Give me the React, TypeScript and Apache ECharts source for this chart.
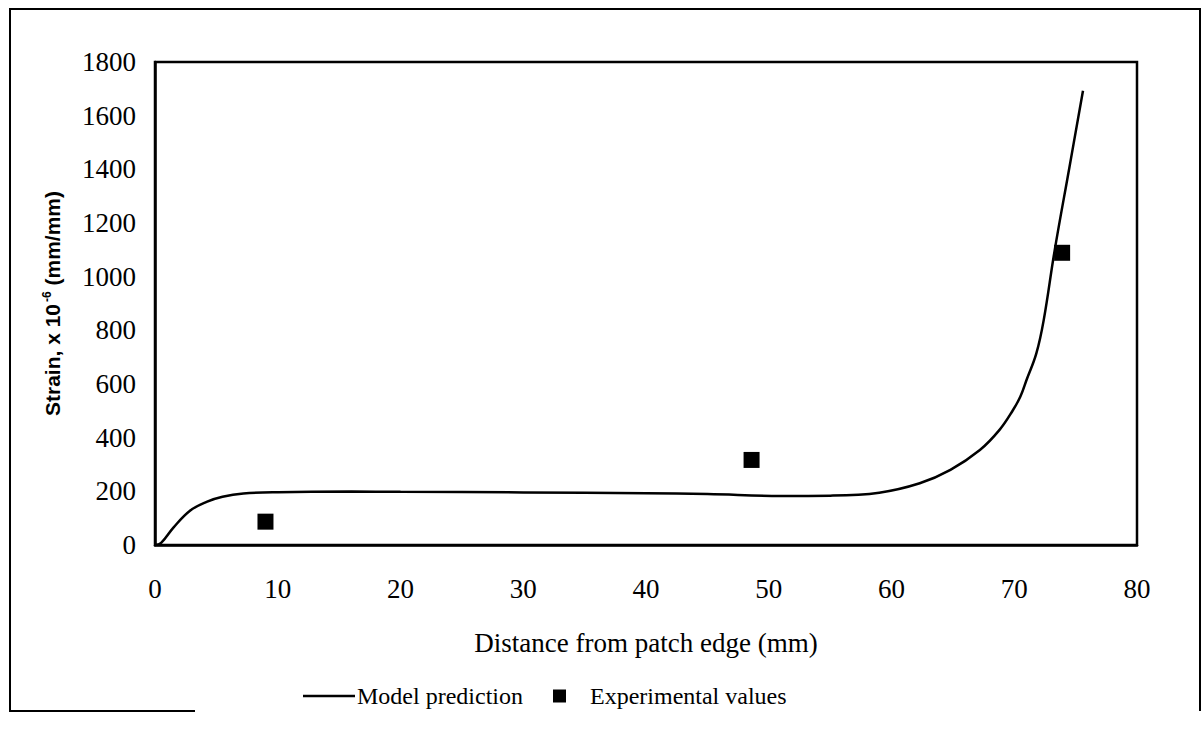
import React, { useEffect, useRef } from "react";
import * as echarts from "echarts";

const modelX = [0, 0.5, 1.5, 2.85, 4.2, 5.5, 7.2, 10, 16, 20, 30, 40, 45, 51, 55, 59, 62.3, 64.8, 67.2, 68.8, 69.9, 70.5, 71.0, 71.8, 72.4, 73.3, 74.5, 75.6];
const modelY = [0, 8, 65, 128, 161, 180, 192, 197, 199, 198, 196, 193, 190, 183, 184, 195, 230, 280, 354, 429, 503, 553, 615, 714, 838, 1100, 1409, 1693];
const expX = [9.0, 48.6, 73.9];
const expY = [87, 317, 1089];
const seriesNames = ["Model prediction", "Experimental values"];
const xTitle = "Distance from patch edge (mm)";

const SERIF = "'Liberation Serif', 'Times New Roman', serif";
const SANS = "'Liberation Sans', Arial, sans-serif";

export default function App() {
  const ref = useRef<HTMLDivElement>(null);
  useEffect(() => {
    if (!ref.current) return;
    const chart = echarts.init(ref.current, undefined, { renderer: "svg" });
    const option: any = {
      animation: false,
      backgroundColor: "#ffffff",
      grid: {
        left: 155,
        top: 62,
        right: 65,
        bottom: 187,
        show: true,
        borderColor: "#000",
        borderWidth: 2.5,
        backgroundColor: "transparent",
      },
      xAxis: {
        type: "value",
        min: 0,
        max: 80,
        interval: 10,
        name: xTitle,
        nameLocation: "middle",
        nameGap: 84,
        nameTextStyle: { fontFamily: SERIF, fontSize: 27, color: "#000" },
        axisLine: { show: true, lineStyle: { color: "#000", width: 2.5 } },
        axisTick: { show: false },
        splitLine: { show: false },
        axisLabel: { fontFamily: SERIF, fontSize: 27, color: "#000", margin: 30, formatter: (v: number) => String(v) },
      },
      yAxis: {
        type: "value",
        min: 0,
        max: 1800,
        interval: 200,
        name: "{a|Strain, x 10}{s|-6}{a| (mm/mm)}",
        nameLocation: "middle",
        nameGap: 92,
        nameRotate: 90,
        nameTextStyle: {
          rich: {
            a: { fontFamily: SANS, fontSize: 21, fontWeight: "bold", color: "#000" },
            s: { fontFamily: SANS, fontSize: 12, fontWeight: "bold", color: "#000", verticalAlign: "top", padding: [0, 0, 10, 2] },
          },
        },
        axisLine: { show: true, lineStyle: { color: "#000", width: 2.5 } },
        axisTick: { show: false },
        splitLine: { show: false },
        axisLabel: { fontFamily: SERIF, fontSize: 27, color: "#000", margin: 19, formatter: (v: number) => String(v) },
      },
      legend: [
        {
          data: [{ name: seriesNames[0], icon: "path://M0,0 L52,0 L52,2.5 L0,2.5 Z" }],
          left: 303,
          top: 684,
          itemWidth: 52,
          itemHeight: 14,
          itemGap: 0,
          padding: 0,
          textStyle: { fontFamily: SERIF, fontSize: 24, color: "#000", padding: [0, 0, 0, -3] },
        },
        {
          data: [seriesNames[1]],
          left: 553,
          top: 684,
          itemWidth: 13,
          itemHeight: 13,
          icon: "rect",
          padding: 0,
          itemStyle: { opacity: 1 },
          textStyle: { fontFamily: SERIF, fontSize: 24, color: "#000", padding: [0, 0, 0, 19] },
        },
      ],
      graphic: [
        {
          type: "polyline",
          shape: { points: [[195, 711], [10, 711], [10, 9], [1200, 9], [1200, 711]] },
          style: { stroke: "#000", lineWidth: 2, fill: "none" },
          silent: true,
        },
      ],
      series: [
        {
          name: seriesNames[0],
          type: "line",
          data: modelX.map((x, i) => [x, modelY[i]]),
          symbol: "none",
          showSymbol: false,
          smooth: 0.4,
          lineStyle: { color: "#000", width: 2.5 },
          itemStyle: { color: "#000" },
        },
        {
          name: seriesNames[1],
          type: "scatter",
          data: expX.map((x, i) => [x, expY[i]]),
          symbol: "rect",
          symbolSize: 16,
          itemStyle: { color: "#000", opacity: 1 },
          z: 3,
        },
      ],
    };
    chart.setOption(option);
    return () => chart.dispose();
  }, []);
  return (
    <div
      ref={ref}
      style={{ position: "absolute", left: 0, top: 0, width: 1202, height: 732, background: "#fff" }}
    />
  );
}
